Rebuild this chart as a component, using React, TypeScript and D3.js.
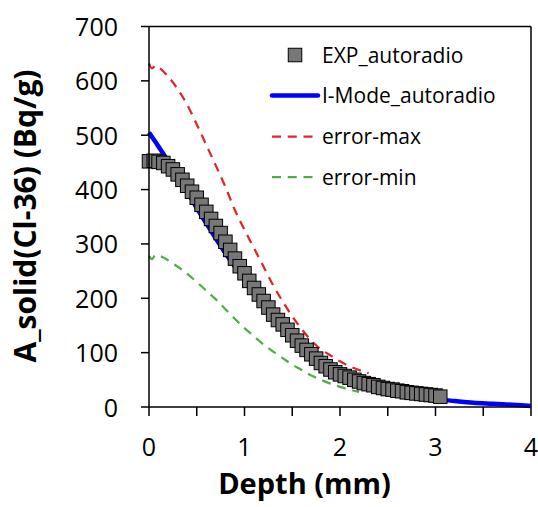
import React from "react";
import * as d3 from "d3";

const expDepth = [0.00,0.05,0.10,0.15,0.20,0.25,0.30,0.35,0.40,0.45,0.50,0.55,0.60,0.65,0.70,0.75,0.80,0.85,0.90,0.95,1.00,1.05,1.10,1.15,1.20,1.25,1.30,1.35,1.40,1.45,1.50,1.55,1.60,1.65,1.70,1.75,1.80,1.85,1.90,1.95,2.00,2.05,2.10,2.15,2.20,2.25,2.30,2.35,2.40,2.45,2.50,2.55,2.60,2.65,2.70,2.75,2.80,2.85,2.90,2.95,3.00,3.05];
const expValues = [452,453,451,449,443,437,428,418,407,396,385,372,359,346,333,320,304,289,273,259,246,232,219,207,195,183,170,160,152,142,132,122,113,105,97,89,81,75,69,64,60,57,54,50,47,44,42,40,37,35,33,32,30,29,27,26,25,24,23,22,21,19];

const modelDepth = [0,0.05,0.1,0.15,0.2,0.3,0.4,0.5,0.6,0.7,0.8,0.9,1.0,1.1,1.2,1.3,1.4,1.5,1.6,1.7,1.8,1.9,2.0,2.2,2.4,2.6,2.8,3.0,3.2,3.4,3.6,3.8,4.0];
const modelValues = [505,492,479,466,452,424,396,366,338,310,283,258,234,211,190,170,151,134,118,103,90,78,68,52,40,31,23,15,11,8,6,4,2];

const maxDepth = [0,0.03,0.07,0.1,0.2,0.3,0.4,0.5,0.6,0.7,0.8,0.9,1.0,1.1,1.2,1.3,1.4,1.5,1.6,1.7,1.8,1.9,2.0,2.1,2.2,2.3];
const maxValues = [632,623,628,625,608,585,556,520,482,444,405,362,326,292,258,224,194,167,143,122,106,95,84,75,68,62];

const minDepth = [0,0.03,0.07,0.15,0.25,0.35,0.5,0.6,0.7,0.8,0.9,1.0,1.1,1.2,1.3,1.4,1.5,1.6,1.7,1.8,1.9,2.0,2.1,2.2];
const minValues = [278,272,280,275,264,252,230,214,198,180,162,145,130,115,102,90,78,68,58,50,43,37,32,28];

const xTicks = [0, 1, 2, 3, 4];
const xMinorTicks = [0, 0.5, 1, 1.5, 2, 2.5, 3, 3.5, 4];
const yTicks = [0, 100, 200, 300, 400, 500, 600, 700];

const legendLabels = ["EXP_autoradio", "I-Mode_autoradio", "error-max", "error-min"];

export default function App() {
  const x = d3.scaleLinear().domain([0, 4]).range([149, 531]);
  const y = d3.scaleLinear().domain([0, 700]).range([407, 26.5]);

  const line = (xs: number[], ys: number[]) =>
    d3
      .line<number>()
      .x((_, i) => x(xs[i]))
      .y((d) => y(d))
      .curve(d3.curveMonotoneX)(ys) || "";

  const font = "'Open Sans', sans-serif";
  const sq = 13.5;
  const legX1 = 272;
  const legX2 = 318;
  const legText = 322;
  const legY = [55, 95.5, 136.5, 177];

  return (
    <svg
      width={538}
      height={507}
      style={{ position: "absolute", left: 0, top: 0, background: "#fff" }}
      fontFamily={font}
    >
      <rect x={0} y={0} width={538} height={507} fill="#fff" />
      {/* frame */}
      <line x1={149} x2={531} y1={26.5} y2={26.5} stroke="#000" strokeWidth={1.5} />
      <line x1={531} x2={531} y1={26.5} y2={407} stroke="#000" strokeWidth={1.5} />

      {/* curves */}
      <path d={line(maxDepth, maxValues)} fill="none" stroke="#e0262a" strokeWidth={2.25} strokeDasharray="9 6.75" />
      <path d={line(minDepth, minValues)} fill="none" stroke="#4fae44" strokeWidth={2.25} strokeDasharray="9 6.75" />
      <path d={line(modelDepth, modelValues)} fill="none" stroke="#0000ff" strokeWidth={4.5} />

      {/* squares */}
      {expValues.map((v, i) => (
        <rect
          key={i}
          x={x(expDepth[i]) - sq / 2}
          y={y(v) - sq / 2}
          width={sq}
          height={sq}
          fill="#777777"
          stroke="#000"
          strokeWidth={1}
        />
      ))}

      {/* axes */}
      <line x1={149} x2={149} y1={26.5} y2={407} stroke="#000" strokeWidth={1.5} />
      <line x1={149} x2={531} y1={407} y2={407} stroke="#000" strokeWidth={1.5} />
      {yTicks.map((t) => (
        <g key={"y" + t}>
          <line x1={141} x2={149} y1={y(t)} y2={y(t)} stroke="#000" strokeWidth={1.5} />
          <text x={118} y={y(t) + 9.5} textAnchor="end" fontSize={25} fill="#000">
            {t}
          </text>
        </g>
      ))}
      {xMinorTicks.map((t) => (
        <line key={"xm" + t} x1={x(t)} x2={x(t)} y1={407} y2={416} stroke="#000" strokeWidth={1.5} />
      ))}
      {xTicks.map((t) => (
        <text key={"x" + t} x={x(t)} y={455.5} textAnchor="middle" fontSize={25} fill="#000">
          {t}
        </text>
      ))}

      {/* titles */}
      <text x={304.5} y={494} textAnchor="middle" fontSize={29} fontWeight="bold" fill="#000">
        Depth (mm)
      </text>
      <text
        transform="translate(36,216) rotate(-90)"
        textAnchor="middle"
        fontSize={30}
        fontWeight="bold"
        fill="#000"
      >
        A_solid(Cl-36) (Bq/g)
      </text>

      {/* legend */}
      <rect x={295 - sq / 2} y={legY[0] - sq / 2} width={sq} height={sq} fill="#777777" stroke="#000" strokeWidth={1} />
      <line x1={legX1} x2={legX2} y1={legY[1]} y2={legY[1]} stroke="#0000ff" strokeWidth={4.5} strokeLinecap="round" />
      <line x1={legX1} x2={legX2} y1={legY[2]} y2={legY[2]} stroke="#e0262a" strokeWidth={2.25} strokeDasharray="9 6.75" />
      <line x1={legX1} x2={legX2} y1={legY[3]} y2={legY[3]} stroke="#4fae44" strokeWidth={2.25} strokeDasharray="9 6.75" />
      {legendLabels.map((l, i) => (
        <text key={l} x={legText} y={legY[i] + 7.5} fontSize={21} fill="#000">
          {l}
        </text>
      ))}
    </svg>
  );
}
